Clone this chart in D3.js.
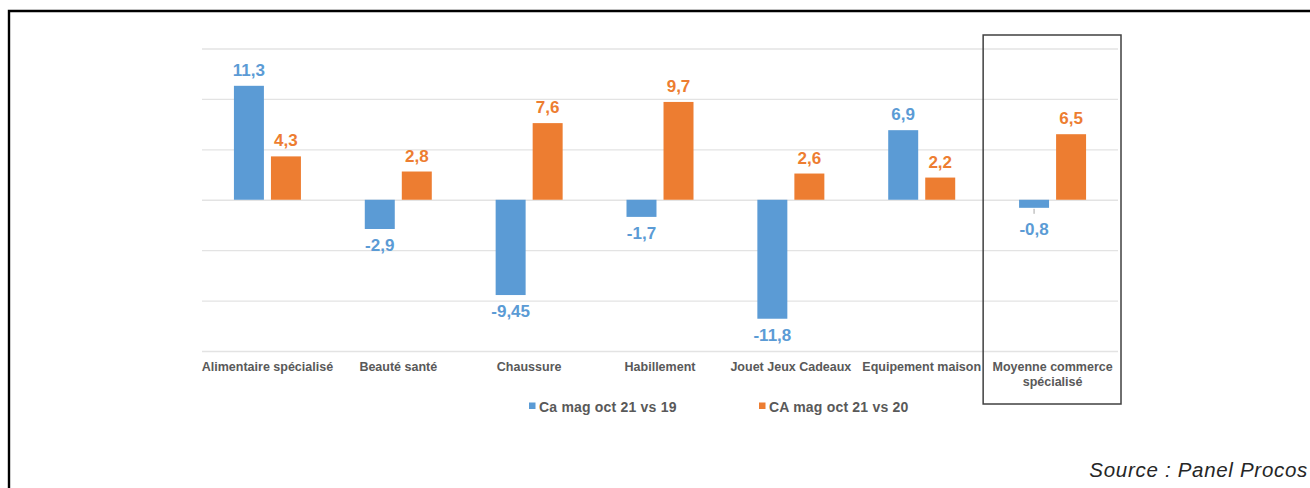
<!DOCTYPE html>
<html>
<head>
<meta charset="utf-8">
<script src="https://cdn.jsdelivr.net/npm/d3@7"></script>
<style>
  html, body { margin: 0; padding: 0; background: #ffffff; }
  svg { display: block; }
  text { font-family: "Liberation Sans", Arial, sans-serif; }
</style>
</head>
<body>
<svg id="chart" width="1310" height="488"></svg>
<script>
const categories = ["Alimentaire spécialisé", "Beauté santé", "Chaussure", "Habillement",
                    "Jouet Jeux Cadeaux", "Equipement maison", "Moyenne commerce spécialisé"];
const seriesNames = ["Ca mag oct 21 vs 19", "CA mag oct 21 vs 20"];
const vs19 = [11.3, -2.9, -9.45, -1.7, -11.8, 6.9, -0.8];
const vs20 = [4.3, 2.8, 7.6, 9.7, 2.6, 2.2, 6.5];
const gridTicks = [-15, -10, -5, 0, 5, 10, 15];
const highlighted = "Moyenne commerce spécialisé";
const sourceText = "Source : Panel Procos";

const colors = ["#5B9BD5", "#ED7D31"];
const W = 1310, H = 488;
const svg = d3.select("#chart");

// outer frame
svg.append("path")
  .attr("d", `M9,${H} L9,11 L${W},11`)
  .attr("fill", "none").attr("stroke", "#000").attr("stroke-width", 2.4);

const plot = { left: 202, right: 1118, top: 48.5, bottom: 351 };

const x0 = d3.scaleBand().domain(categories).range([plot.left, plot.right]).padding(0);
const groupW = 67;
const x1 = d3.scaleBand().domain(seriesNames).range([0, groupW]).paddingInner(0.19).paddingOuter(0);
const y = d3.scaleLinear().domain([-15, 15]).range([plot.bottom, plot.top]);

// grid
const grid = svg.append("g").attr("transform", `translate(${plot.left},0)`)
  .call(d3.axisLeft(y).tickValues(gridTicks).tickSize(-(plot.right - plot.left)).tickFormat(""));
grid.select(".domain").remove();
grid.selectAll(".tick line").attr("stroke", "#e3e3e3").attr("stroke-width", 1.4);

// data table
const rows = categories.map((c, i) => ({ cat: c, vals: [vs19[i], vs20[i]] }));
const fmt = v => String(v).replace(".", ",");

const groups = svg.append("g").selectAll("g").data(rows).join("g")
  .attr("transform", d => `translate(${x0(d.cat) + x0.bandwidth() / 2 - groupW / 2},0)`);

groups.selectAll("rect").data(d => d.vals.map((v, k) => ({ v, k }))).join("rect")
  .attr("x", d => x1(seriesNames[d.k]))
  .attr("width", x1.bandwidth())
  .attr("y", d => Math.min(y(d.v), y(0)))
  .attr("height", d => Math.abs(y(d.v) - y(0)))
  .attr("fill", d => colors[d.k]);

// value labels
groups.selectAll("text.val").data(d => d.vals.map((v, k) => ({ v, k }))).join("text")
  .attr("class", "val")
  .attr("x", d => x1(seriesNames[d.k]) + x1.bandwidth() / 2)
  .attr("y", d => d.v >= 0 ? y(d.v) - 10 : Math.max(y(d.v) + 22, y(0) + 35))
  .attr("text-anchor", "middle")
  .attr("font-size", 17).attr("font-weight", 700)
  .attr("fill", d => colors[d.k])
  .text(d => fmt(d.v));

// leader lines for small negative values whose labels were pushed down
groups.selectAll("line.leader").data(d => d.vals.map((v, k) => ({ v, k })).filter(e => e.v < 0 && y(e.v) + 22 < y(0) + 35)).join("line")
  .attr("class", "leader")
  .attr("x1", d => x1(seriesNames[d.k]) + x1.bandwidth() / 2)
  .attr("x2", d => x1(seriesNames[d.k]) + x1.bandwidth() / 2)
  .attr("y1", d => y(d.v) + 1).attr("y2", d => y(d.v) + 6)
  .attr("stroke", "#a6a6a6").attr("stroke-width", 1);

// category labels
const wrapWidth = 140;
const xAxis = svg.append("g").attr("transform", `translate(0,${plot.bottom})`)
  .call(d3.axisBottom(x0).tickSize(0).tickPadding(0));
xAxis.select(".domain").remove();
xAxis.selectAll(".tick text")
  .attr("font-family", "Liberation Sans, Arial, sans-serif")
  .attr("font-size", 12.5).attr("font-weight", 700).attr("fill", "#595959")
  .attr("y", 20).attr("dy", 0)
  .each(function (d) {
    const t = d3.select(this);
    if (this.getComputedTextLength() > wrapWidth) {
      const words = d.split(" ");
      t.text(null);
      let line = [], lines = [];
      const probe = t.append("tspan");
      words.forEach(w => {
        line.push(w);
        probe.text(line.join(" "));
        if (probe.node().getComputedTextLength() > wrapWidth && line.length > 1) {
          line.pop(); lines.push(line.join(" ")); line = [w];
        }
      });
      lines.push(line.join(" "));
      probe.remove();
      lines.forEach((l, i) => t.append("tspan").attr("x", 0).attr("dy", i === 0 ? 0 : 14.5).text(l));
    }
  });

// highlight box around the average category
const hb = x0(highlighted);
svg.append("rect")
  .attr("x", hb - 4).attr("y", y(15) - 13.5)
  .attr("width", x0.bandwidth() + 7).attr("height", 369)
  .attr("fill", "none").attr("stroke", "#404040").attr("stroke-width", 1.5);

// legend
const legendX = [529, 759];
const legend = svg.append("g").selectAll("g").data(seriesNames).join("g")
  .attr("transform", (d, i) => `translate(${legendX[i]},402.5)`);
legend.append("rect").attr("width", 6.5).attr("height", 6.5).attr("fill", (d, i) => colors[i]);
legend.append("text").attr("x", 10).attr("y", 9.3)
  .attr("font-size", 14).attr("font-weight", 700).attr("fill", "#595959")
  .attr("letter-spacing", 0.2)
  .text(d => d);

// source
svg.append("text").attr("x", 1308).attr("y", 476.5).attr("text-anchor", "end")
  .attr("font-size", 20.5).attr("font-style", "italic").attr("fill", "#262626")
  .attr("letter-spacing", 0.7)
  .text(sourceText);
</script>
</body>
</html>
